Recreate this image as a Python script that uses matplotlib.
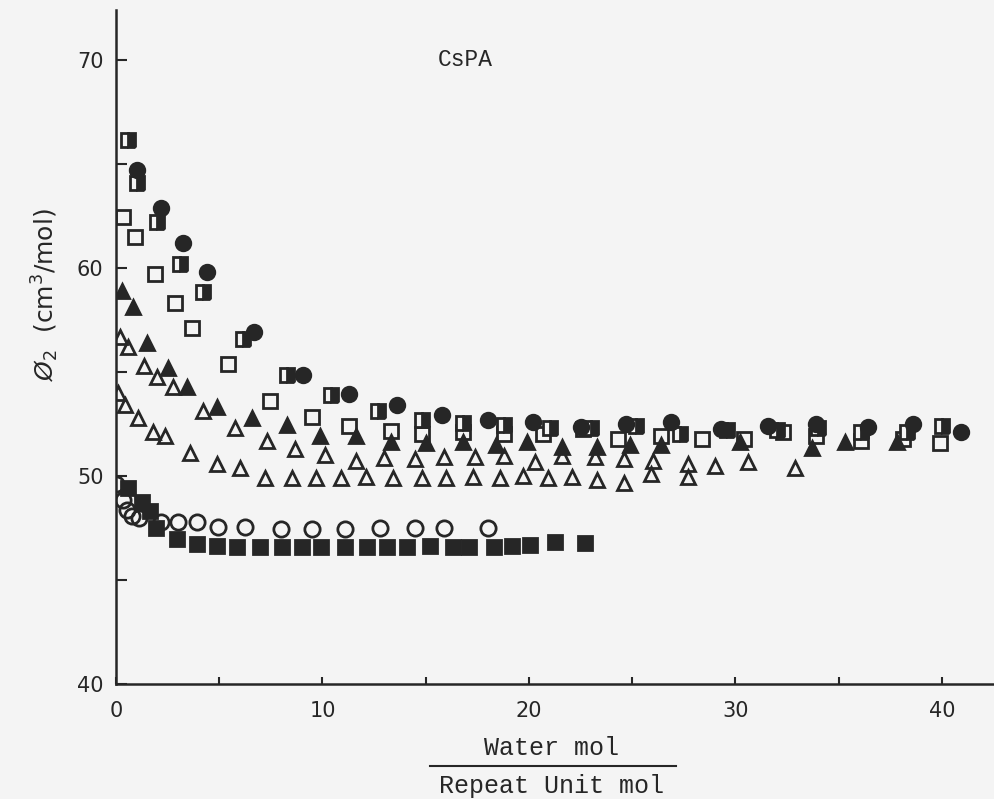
import matplotlib
matplotlib.use("Agg")
import matplotlib.pyplot as plt
from matplotlib.lines import Line2D

# filled circles
fc_x = [1.0, 2.2, 3.25, 4.4, 6.7, 9.05, 11.3, 13.6, 15.8, 18.0, 20.2, 22.5, 24.7,
        26.9, 29.3, 31.6, 33.9, 36.4, 38.6, 40.9]
fc_y = [64.7, 62.9, 61.2, 59.8, 56.9, 54.85, 53.95, 53.4, 52.95, 52.7, 52.6, 52.35, 52.5,
        52.6, 52.25, 52.4, 52.5, 52.35, 52.5, 52.1]

# half-filled squares
hs_x = [0.58, 1.0, 2.0, 3.1, 4.2, 6.15, 8.3, 10.4, 12.7, 14.8, 16.8, 18.8, 21.0, 23.0,
        25.2, 27.3, 29.6, 32.0, 34.0, 36.1, 38.3, 40.0]
hs_y = [66.15, 64.1, 62.2, 60.2, 58.85, 56.6, 54.85, 53.9, 53.1, 52.7, 52.55, 52.45, 52.3, 52.3,
        52.4, 52.0, 52.2, 52.2, 52.3, 52.1, 52.1, 52.4]

# open squares
os_x = [0.34, 0.92, 1.9, 2.86, 3.7, 5.4, 7.45, 9.5, 11.3, 13.3, 14.8, 16.8, 18.8, 20.7,
        22.6, 24.3, 26.4, 28.4, 30.4, 32.3, 33.9, 36.1, 38.1, 39.9]
os_y = [62.45, 61.5, 59.7, 58.3, 57.1, 55.4, 53.6, 52.85, 52.4, 52.15, 52.0, 52.1, 52.0, 52.0,
        52.25, 51.8, 51.9, 51.8, 51.8, 52.1, 51.9, 51.7, 51.8, 51.6]

# filled triangles
ft_x = [0.3, 0.8, 1.5, 2.5, 3.45, 4.9, 6.6, 8.3, 9.9, 11.6, 13.3, 15.0, 16.8, 18.4,
        19.9, 21.6, 23.3, 24.9, 26.4, 30.2, 33.7, 35.3, 37.8]
ft_y = [58.9, 58.1, 56.4, 55.2, 54.3, 53.3, 52.8, 52.45, 51.9, 51.9, 51.65, 51.6, 51.65, 51.5,
        51.65, 51.4, 51.4, 51.5, 51.5, 51.65, 51.35, 51.65, 51.65]

# open triangles (upper set)
ot1_x = [0.2, 0.57, 1.35, 2.0, 2.75, 4.2, 5.75, 7.3, 8.65, 10.1, 11.6, 13.0, 14.5, 15.9,
         17.4, 18.8, 20.3, 21.6, 23.2, 24.6, 26.0, 27.7, 29.0, 30.6, 32.9]
ot1_y = [56.7, 56.2, 55.3, 54.75, 54.3, 53.1, 52.3, 51.7, 51.3, 51.0, 50.7, 50.85, 50.8, 50.9,
         50.9, 50.95, 50.65, 50.95, 50.9, 50.8, 50.7, 50.6, 50.5, 50.65, 50.4]

# open triangles (lower set)
ot2_x = [0.1, 0.44, 1.07, 1.8, 2.37, 3.6, 4.9, 6.0, 7.2, 8.5, 9.7, 10.9, 12.1, 13.4,
         14.8, 16.0, 17.3, 18.6, 19.7, 20.9, 22.1, 23.3, 24.6, 25.9, 27.7]
ot2_y = [54.0, 53.4, 52.8, 52.1, 51.9, 51.1, 50.6, 50.4, 49.9, 49.9, 49.9, 49.9, 49.95, 49.9,
         49.9, 49.9, 49.95, 49.9, 50.0, 49.9, 49.95, 49.8, 49.65, 50.1, 49.95]

# open circles
oc_x = [0.0, 0.33, 0.52, 0.77, 1.1, 2.2, 3.0, 3.9, 4.95, 6.25, 8.0, 9.5, 11.1, 12.8,
        14.5, 15.9, 18.0]
oc_y = [49.6, 48.85, 48.35, 48.1, 48.0, 47.8, 47.8, 47.8, 47.55, 47.55, 47.45, 47.45, 47.45, 47.5,
        47.5, 47.5, 47.5]

# filled squares
fs_x = [0.6, 1.25, 1.65, 1.95, 2.95, 3.9, 4.9, 5.85, 6.95, 8.05, 9.0, 9.95, 11.1, 12.15,
        13.1, 14.1, 15.2, 16.3, 17.1, 18.3, 19.2, 20.05, 21.25, 22.7]
fs_y = [49.4, 48.75, 48.3, 47.5, 46.95, 46.75, 46.65, 46.6, 46.6, 46.6, 46.6, 46.6, 46.6, 46.6,
        46.6, 46.6, 46.65, 46.6, 46.6, 46.6, 46.65, 46.7, 46.85, 46.8]

ink = "#262626"
bg = "#f4f4f4"

fig = plt.figure(figsize=(9.95, 7.99), dpi=100, facecolor=bg)
ax = fig.add_axes([0.1166, 0.1439, 0.8834, 0.8436])
ax.set_facecolor(bg)

kw = dict(linestyle="none", markeredgecolor=ink, markeredgewidth=2.0)
ax.plot(ot2_x, ot2_y, marker="^", markersize=10.5, markerfacecolor="none", **kw)
ax.plot(ot1_x, ot1_y, marker="^", markersize=10.5, markerfacecolor="none", **kw)
ax.plot(ft_x, ft_y, marker="^", markersize=10.5, markerfacecolor=ink, **kw)
ax.plot(os_x, os_y, marker="s", markersize=10, markerfacecolor="none", **kw)
ax.plot(hs_x, hs_y, marker="s", markersize=10, fillstyle="right",
        markerfacecolor=ink, markerfacecoloralt=bg, **kw)
ax.plot(fc_x, fc_y, marker="o", markersize=10.5, markerfacecolor=ink, **kw)
ax.plot(fs_x, fs_y, marker="s", markersize=9.5, markerfacecolor=ink, **kw)
ax.plot(oc_x, oc_y, marker="o", markersize=11, markerfacecolor="none", **kw)

ax.set_xlim(0, 42.57)
ax.set_ylim(40, 72.4)
ax.set_xticks([0, 10, 20, 30, 40])
ax.set_xticks([5, 15, 25, 35], minor=True)
ax.set_yticks([40, 50, 60, 70])
ax.set_yticks([45, 55, 65], minor=True)
ax.tick_params(axis="y", which="both", direction="in", length=8, width=1.5,
               color=ink, labelcolor=ink, labelsize=15, pad=9)
ax.tick_params(axis="x", which="both", direction="in", length=5, width=1.5,
               color=ink, labelcolor=ink, labelsize=15, pad=12)
for s in ["top", "right"]:
    ax.spines[s].set_visible(False)
for s in ["left", "bottom"]:
    ax.spines[s].set_linewidth(1.8)
    ax.spines[s].set_color(ink)

ax.text(16.9, 70, "CsPA", ha="center", va="center", fontsize=16.5,
        family="Liberation Mono", color=ink)

# stacked x label
fig.text(552 / 995, 1 - 748 / 799, "Water mol", ha="center", va="center",
         fontsize=18, family="Liberation Mono", color=ink)
fig.text(552 / 995, 1 - 786 / 799, "Repeat Unit mol", ha="center", va="center",
         fontsize=18, family="Liberation Mono", color=ink)
fig.add_artist(Line2D([430 / 995, 676 / 995], [1 - 766 / 799, 1 - 766 / 799],
                      color=ink, linewidth=1.5))

fig.text(45 / 995, 1 - 295 / 799, "$\\mathit{Ø}_2$  (cm$^3$/mol)", rotation=90,
         ha="center", va="center", fontsize=18, color=ink)

fig.savefig("out.png", dpi=100, facecolor=bg)
